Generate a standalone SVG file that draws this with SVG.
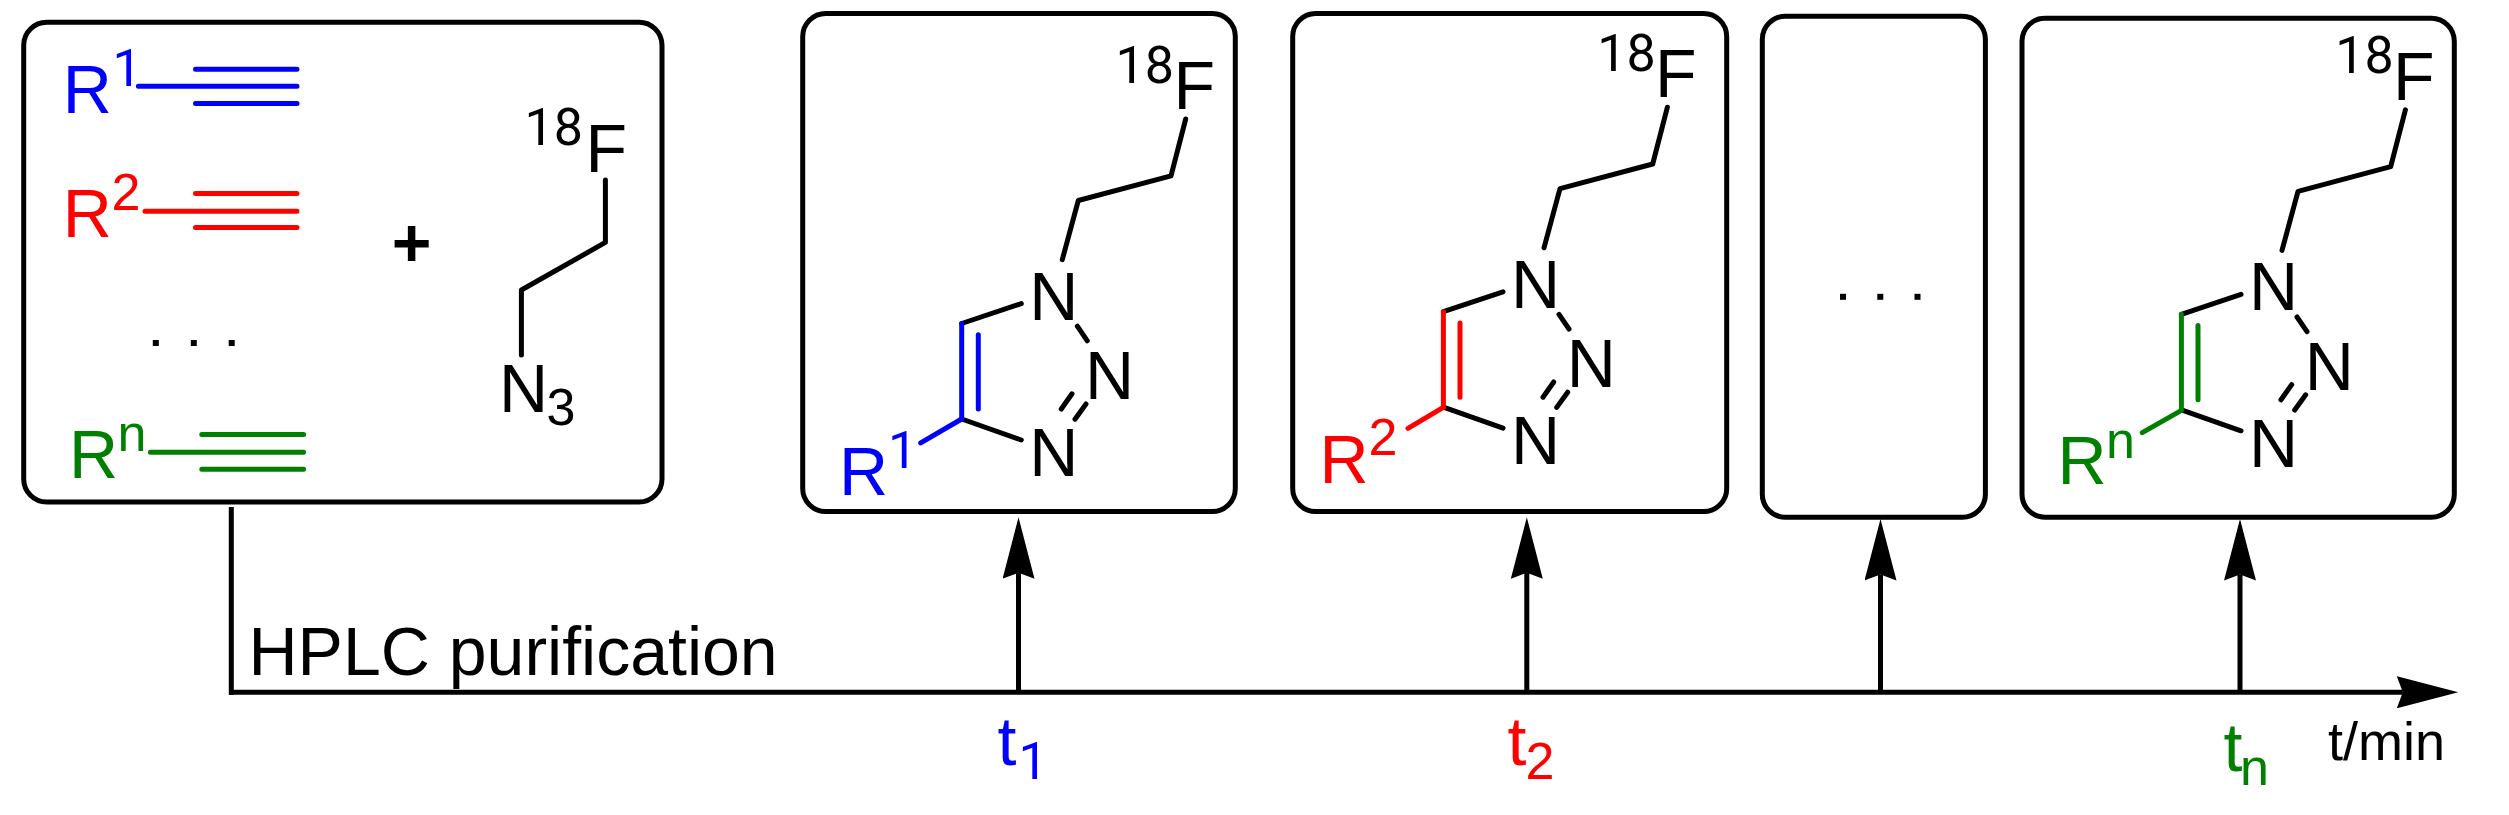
<svg xmlns="http://www.w3.org/2000/svg" width="2509" height="815" viewBox="0 0 2509 815">
<style>
text{font-family:"Liberation Sans",Arial,sans-serif;font-size:68px;fill:#000}
.s{font-size:52px}
.d{font-family:Roboto,"Liberation Sans",sans-serif;font-size:52px}
.box{fill:#fff;stroke:#000;stroke-width:5}
.bond{fill:none;stroke:#000;stroke-width:5;stroke-linecap:round;stroke-linejoin:round}
.blue{fill:#00f}.red{fill:#f00}.green{fill:#008000}
.bond.cb{stroke:#00f}.bond.cr{stroke:#f00}.bond.cg{stroke:#008000}
.conn{fill:none;stroke:#000;stroke-width:5}
</style>
<defs>
<marker id="head" markerUnits="userSpaceOnUse" markerWidth="62" markerHeight="32" refX="6" refY="16" orient="auto"><path d="M0 0L61.5 16L0 32L6 16z" fill="#000"/></marker>
<path id="ring" d="M1185.7 119L1171 175.8L1078.3 200.5L1062.3 259.6M1021.3 303.6L961.7 323.5M961.7 419L1021.3 440M1077.3 326.2L1087.3 340.8M1072 393.8L1061.3 409M1086 404L1075 419.2"/>
<path id="dbl" d="M961.7 323.5V419M978.3 334.7V409"/>
<rect id="dot" width="6" height="6" fill="#000"/>
</defs>

<g id="connectors">
<path class="conn" d="M231.3 507V694.8"/>
<path class="conn" d="M229 692.3H2402.8" marker-end="url(#head)"/>
<path class="conn" d="M1018.5 692V572.8" marker-end="url(#head)"/>
<path class="conn" d="M1526.8 692V572.8" marker-end="url(#head)"/>
<path class="conn" d="M1880.5 692V574.5" marker-end="url(#head)"/>
<path class="conn" d="M2240 692V574.5" marker-end="url(#head)"/>
</g>

<g id="reactants">
<rect class="box" x="23.7" y="22.3" width="638.3" height="479.7" rx="23"/>
<text class="blue"><tspan x="62.8" y="112.7">R</tspan><tspan class="d" x="112.6" y="85.7">1</tspan></text>
<path class="bond cb" d="M195.5 69.2H297M138.4 86.2H297M195.5 103.5H297"/>
<text class="red"><tspan x="62.8" y="236.6">R</tspan><tspan class="s" x="111.5" y="210.3">2</tspan></text>
<path class="bond cr" d="M195.5 193.4H297M145 211.3H297M195.5 227.5H297"/>
<use href="#dot" x="152.8" y="340"/><use href="#dot" x="190.8" y="340"/><use href="#dot" x="228.7" y="340"/>
<text class="green"><tspan x="69" y="478.4">R</tspan><tspan class="s" x="117.5" y="451.3">n</tspan></text>
<path class="bond cg" d="M201.8 434.4H303.6M150.4 452.3H303.6M201.8 469.2H303.6"/>
<text x="411.7" y="266" text-anchor="middle" font-weight="bold">+</text>
<text><tspan class="d" x="524.5" y="145.4">18</tspan><tspan x="585.5" y="171.7">F</tspan></text>
<path class="bond" d="M605.4 180V242.4L521.4 290V355"/>
<text><tspan x="499" y="412.4">N</tspan><tspan class="s" x="546.5" y="425.3">3</tspan></text>
</g>

<g id="product-1">
<rect class="box" x="802.7" y="13.5" width="432.6" height="498" rx="23"/>
<use class="bond" href="#ring"/>
<use class="bond cb" href="#dbl"/>
<path class="bond cb" d="M961.7 419L920.7 442.9"/>
<text><tspan class="d" x="1115.5" y="82.7">18</tspan><tspan x="1173.4" y="109.3">F</tspan></text>
<text x="1029.2" y="319.5">N</text><text x="1085" y="399">N</text><text x="1029.2" y="476">N</text>
<text class="blue"><tspan x="839" y="494.6">R</tspan><tspan class="d" x="888" y="468.2">1</tspan></text>
</g>

<g id="product-2">
<rect class="box" x="1292.7" y="13.5" width="434" height="498" rx="23"/>
<g transform="translate(481.7 -11.8)">
<use class="bond" href="#ring"/>
<use class="bond cr" href="#dbl"/>
<text><tspan class="d" x="1115.5" y="82.7">18</tspan><tspan x="1173.4" y="109.3">F</tspan></text>
<text x="1029.2" y="319.5">N</text><text x="1085" y="399">N</text><text x="1029.2" y="476">N</text>
</g>
<path class="bond cr" d="M1443.3 407.4L1408 428.3"/>
<text class="red"><tspan x="1319.6" y="482.8">R</tspan><tspan class="s" x="1368.5" y="455.4">2</tspan></text>
</g>

<g id="placeholder">
<rect class="box" x="1762.3" y="16.2" width="223.1" height="501" rx="23"/>
<use href="#dot" x="1840" y="293.8"/><use href="#dot" x="1877.3" y="293.8"/><use href="#dot" x="1914.5" y="293.8"/>
</g>

<g id="product-n">
<rect class="box" x="2022" y="18.3" width="432.3" height="498.9" rx="23"/>
<g transform="translate(1219.7 -9.2)">
<use class="bond" href="#ring"/>
<use class="bond cg" href="#dbl"/>
<text><tspan class="d" x="1115.5" y="82.7">18</tspan><tspan x="1173.4" y="109.3">F</tspan></text>
<text x="1029.2" y="319.5">N</text><text x="1085" y="399">N</text><text x="1029.2" y="476">N</text>
</g>
<path class="bond cg" d="M2181 410.7L2142.3 432.7"/>
<text class="green"><tspan x="2057.6" y="484.4">R</tspan><tspan class="s" x="2106" y="458.4">n</tspan></text>
</g>

<g id="labels">
<text x="248.5" y="675">HPLC purification</text>
<text class="blue"><tspan x="997.6" y="765">t</tspan><tspan class="d" x="1018.6" y="779">1</tspan></text>
<text class="red"><tspan x="1507.4" y="765">t</tspan><tspan class="s" x="1525.5" y="779">2</tspan></text>
<text class="green"><tspan x="2223.6" y="770.7">t</tspan><tspan class="s" x="2240" y="785">n</tspan></text>
<text x="2328" y="760" style="font-size:54px">t/min</text>
</g>
</svg>
